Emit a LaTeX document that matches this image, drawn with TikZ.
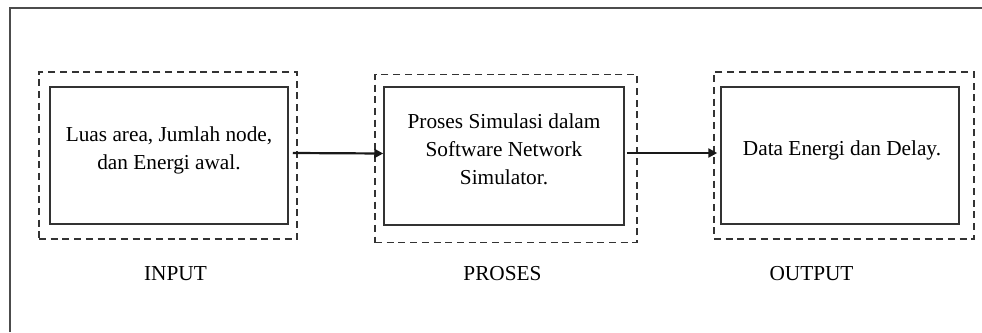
\documentclass[tikz,border=0pt]{standalone}
\usepackage{fontspec}
\setmainfont{Liberation Serif}
\usetikzlibrary{arrows.meta}
\begin{document}
\begin{tikzpicture}[x=1pt,y=-1pt,
  frame/.style={draw=black!70, line width=1.3pt},
  group/.style={draw=black!80, line width=1.9pt, dash pattern=on 7pt off 4.7pt, inner sep=0pt},
  box/.style={draw=black!80, line width=1.5pt, inner sep=0pt},
  txt/.style={font=\fontsize{21.3}{28}\selectfont, align=center, inner sep=0pt},
  flow/.style={-{Triangle[length=9pt,width=9pt]}, line width=2.2pt, draw=black!90}
]
\useasboundingbox (0,0) rectangle (982,332);
% outer frame (runs off the right and bottom edges)
\draw[frame] (10,332) -- (10,8) -- (982,8);

% dashed group outlines
\node[group, minimum width=258pt, minimum height=167pt] (g1) at (168,155.5) {};
\node[group, minimum width=262pt, minimum height=168pt] (g2) at (506,158.5) {};
\node[group, minimum width=260pt, minimum height=167pt] (g3) at (844,155.5) {};

% solid stage boxes
\node[box, minimum width=238pt, minimum height=137pt] (b1) at (169,155.5) {};
\node[box, minimum width=240pt, minimum height=138pt] (b2) at (504,156) {};
\node[box, minimum width=238pt, minimum height=137pt] (b3) at (840,155.5) {};

% box texts
\node[txt] (t1) at (169,150.5) {Luas area, Jumlah node,\\dan Energi awal.};
\node[txt] (t2) at (504,149.5) {Proses Simulasi dalam\\Software Network\\Simulator.};
\node[txt] (t3) at (842,150) {Data Energi dan Delay.};

% stage captions
\node[txt, anchor=base] (l1) at (175.5,280) {INPUT};
\node[txt, anchor=base] (l2) at (502.5,280) {PROSES};
\node[txt, anchor=base] (l3) at (811.5,280) {OUTPUT};

% flow arrows
\draw[flow] ([xshift=4pt,yshift=2.5pt]b1.east) -- ([yshift=2.5pt]b2.west);
\draw[flow] ([xshift=2pt,yshift=3pt]b2.east) -- ([xshift=-3pt,yshift=2.5pt]b3.west);
\end{tikzpicture}
\end{document}
